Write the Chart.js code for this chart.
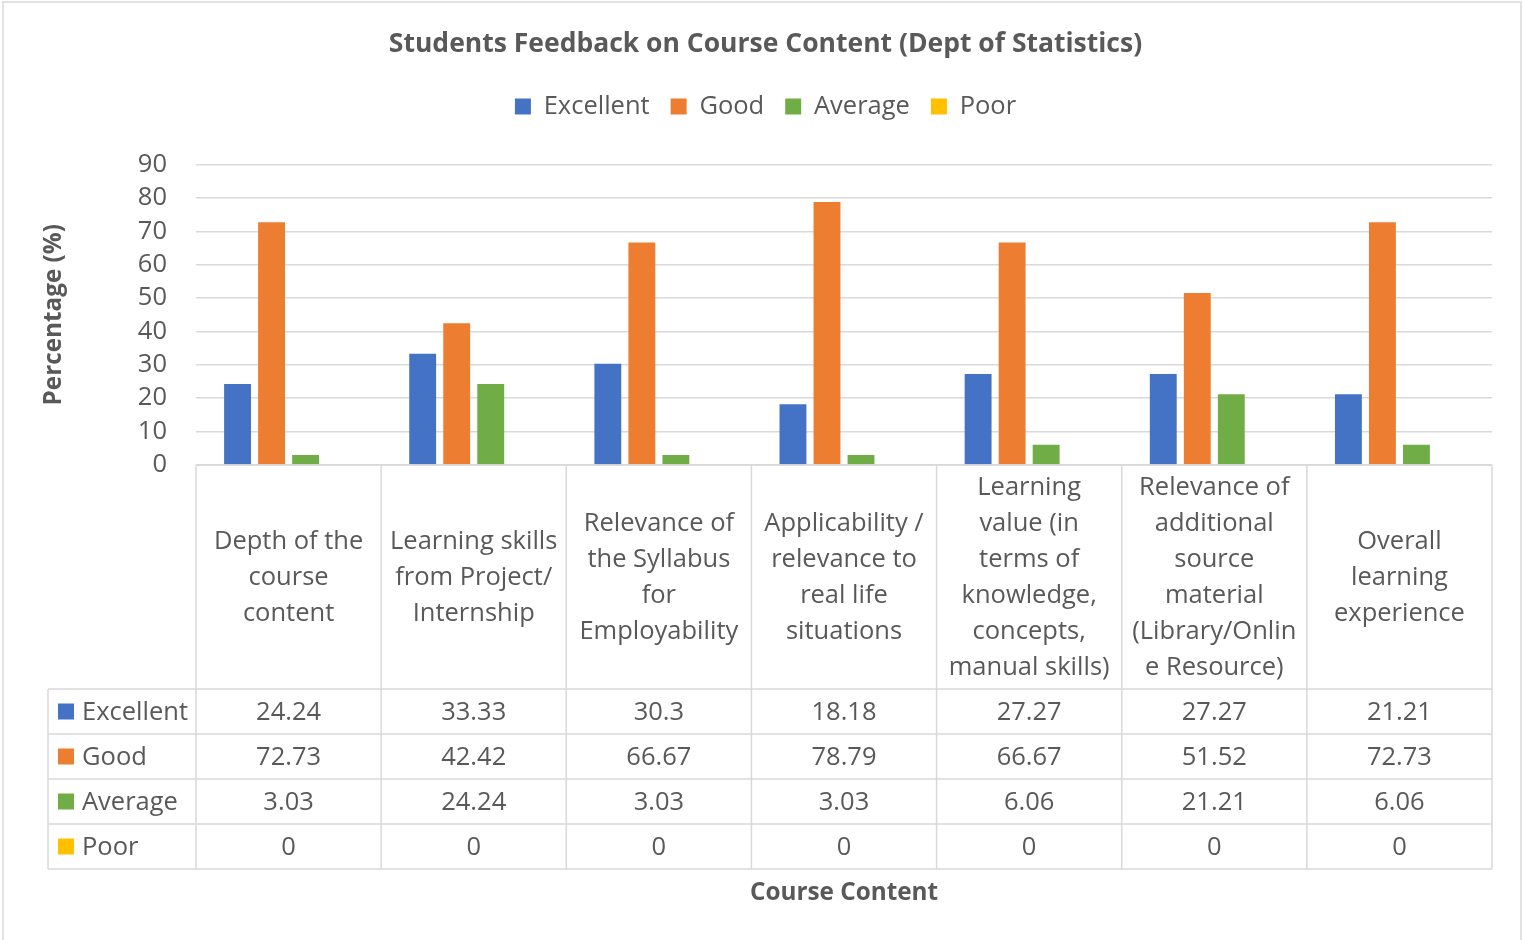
<!DOCTYPE html>
<html><head><meta charset="utf-8">
<script src="https://cdn.jsdelivr.net/npm/chart.js@4.4.1/dist/chart.umd.min.js"></script>
<style>html,body{margin:0;padding:0;background:#fff}#wrap{width:1523px;height:940px}</style>
</head><body><div id="wrap"><canvas id="c" width="1523" height="940"></canvas></div>
<script>
const chartTitle = "Students Feedback on Course Content (Dept of Statistics)";
const yTitle = "Percentage (%)";
const xTitle = "Course Content";
const categories = [
  ["Depth of the", "course", "content"],
  ["Learning skills", "from Project/", "Internship"],
  ["Relevance of", "the Syllabus", "for", "Employability"],
  ["Applicability /", "relevance to", "real life", "situations"],
  ["Learning", "value (in", "terms of", "knowledge,", "concepts,", "manual skills)"],
  ["Relevance of", "additional", "source", "material", "(Library/Onlin", "e Resource)"],
  ["Overall", "learning", "experience"]
];
const seriesNames = ["Excellent", "Good", "Average", "Poor"];
const excellent = [24.24, 33.33, 30.3, 18.18, 27.27, 27.27, 21.21];
const good = [72.73, 42.42, 66.67, 78.79, 66.67, 51.52, 72.73];
const average = [3.03, 24.24, 3.03, 3.03, 6.06, 21.21, 6.06];
const poor = [0, 0, 0, 0, 0, 0, 0];
const yMin = 0, yMax = 90, yStep = 10;

const colors = ["#4472C4", "#ED7D31", "#70AD47", "#FFC000"];
const FONT = "'Open Sans'";
const TXT = "#595959";
const GRID = "#d9d9d9";
const FS = 25.5;

const seriesValues = [excellent, good, average, poor];

const tablePlugin = {
  id: 'dataTable',
  beforeDraw(chart) {
    const ctx = chart.ctx;
    ctx.save();
    ctx.strokeStyle = GRID;
    ctx.lineWidth = 1.5;
    ctx.strokeRect(3, 2, chart.width - 5, chart.height + 5);
    ctx.restore();
  },
  afterDraw(chart) {
    const ctx = chart.ctx;
    const area = chart.chartArea;
    const n = categories.length;
    const catW = (area.right - area.left) / n;
    const top = area.bottom;
    const headerH = 224;
    const rowH = 45;
    const leftX = 48;
    const rowsBottom = top + headerH + rowH * seriesNames.length;
    ctx.save();
    ctx.strokeStyle = GRID;
    ctx.lineWidth = 1.5;
    ctx.beginPath();
    ctx.moveTo(area.left, top); ctx.lineTo(area.right, top);
    for (let i = 0; i <= n; i++) {
      const x = area.left + i * catW;
      ctx.moveTo(x, top); ctx.lineTo(x, rowsBottom);
    }
    for (let r = 0; r <= seriesNames.length; r++) {
      const y = top + headerH + r * rowH;
      ctx.moveTo(leftX, y); ctx.lineTo(area.right, y);
    }
    ctx.moveTo(leftX, top + headerH); ctx.lineTo(leftX, rowsBottom);
    ctx.stroke();

    ctx.fillStyle = TXT;
    ctx.font = FS + "px " + FONT;
    ctx.textAlign = "center";
    ctx.textBaseline = "middle";
    const lh = 36;
    const hc = top + headerH / 2 + 1;
    categories.forEach((lines, i) => {
      const cx = area.left + (i + 0.5) * catW;
      const y0 = hc - (lines.length - 1) * lh / 2;
      lines.forEach((t, k) => ctx.fillText(t, cx, y0 + k * lh));
    });
    seriesNames.forEach((name, r) => {
      const cy = top + headerH + (r + 0.5) * rowH;
      ctx.fillStyle = colors[r];
      ctx.fillRect(58, cy - 8, 16, 16);
      ctx.fillStyle = TXT;
      ctx.textAlign = "left";
      ctx.fillText(name, 82, cy + 1);
      ctx.textAlign = "center";
      seriesValues[r].forEach((v, i) => {
        const cx = area.left + (i + 0.5) * catW;
        ctx.fillText(String(v), cx, cy + 1);
      });
    });
    ctx.font = "bold 24.3px " + FONT;
    ctx.fillText(xTitle, (area.left + area.right) / 2, 893);
    ctx.restore();
  }
};

new Chart(document.getElementById('c'), {
  type: 'bar',
  data: {
    labels: categories.map(c => c.join(' ')),
    datasets: seriesNames.map((name, i) => ({
      label: name,
      data: seriesValues[i],
      backgroundColor: colors[i],
      borderWidth: 0,
      barPercentage: 0.79,
      categoryPercentage: 0.735
    }))
  },
  options: {
    responsive: false,
    animation: false,
    devicePixelRatio: 1,
    layout: { padding: { left: 8, right: 0, top: 0, bottom: 475 } },
    plugins: {
      title: {
        display: true, text: chartTitle, color: TXT,
        font: { family: FONT, size: 26.5, weight: 'bold' },
        padding: { top: 28.5, bottom: 12.5 }
      },
      subtitle: {
        display: true, text: ' ', weight: 500,
        font: { size: 1 }, padding: { top: 34, bottom: 0 }
      },
      legend: {
        position: 'top',
        labels: {
          color: TXT, font: { family: FONT, size: FS },
          boxWidth: 16, boxHeight: 16, padding: 21
        }
      },
      tooltip: { enabled: false }
    },
    scales: {
      x: { display: false },
      y: {
        min: yMin, max: yMax,
        ticks: { stepSize: yStep, autoSkip: false, color: TXT, font: { family: FONT, size: FS }, padding: 29 },
        grid: { color: GRID, lineWidth: 1.5, drawTicks: false },
        border: { display: false },
        title: { display: true, text: yTitle, color: TXT, font: { family: FONT, size: 24.3, weight: 'bold' }, padding: { top: 31, bottom: 0 } },
        afterFit(scale) { scale.width = 188; }
      },
      yRightSpace: {
        type: 'linear', position: 'right', display: true,
        grid: { display: false }, ticks: { display: false }, border: { display: false },
        afterFit(scale) { scale.width = 31; }
      }
    }
  },
  plugins: [tablePlugin]
});
</script>
</body></html>
